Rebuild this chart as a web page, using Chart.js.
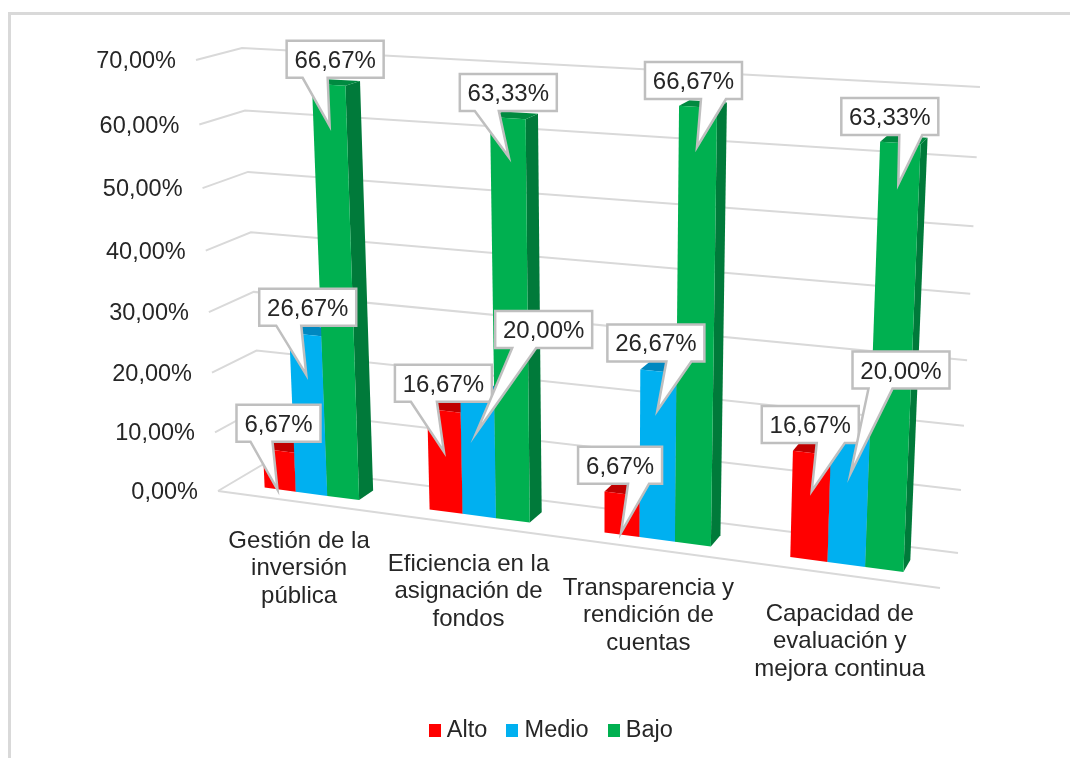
<!DOCTYPE html>
<html>
<head>
<meta charset="utf-8">
<script src="https://cdn.jsdelivr.net/npm/chart.js@4"></script>
<style>
  html, body { margin: 0; background: #fff; }
  canvas { display: block; }
</style>
</head>
<body>
<canvas id="evalChart" width="1070" height="758"></canvas>
<script>
// Datos del grafico
const categories = [
    ['Gestión de la', 'inversión', 'pública'],
    ['Eficiencia en la', 'asignación de', 'fondos'],
    ['Transparencia y', 'rendición de', 'cuentas'],
    ['Capacidad de', 'evaluación y', 'mejora continua']
];
const alto = [6.67, 16.67, 6.67, 16.67];
const medio = [26.67, 20.00, 26.67, 20.00];
const bajo = [66.67, 63.33, 66.67, 63.33];
const tickValues = [0, 10, 20, 30, 40, 50, 60, 70];
const tickLabels = ['0,00%', '10,00%', '20,00%', '30,00%', '40,00%', '50,00%', '60,00%', '70,00%'];

// Perspectiva: esquinas del plano delantero y del trasero (u izq/der, v abajo/arriba)
const frontPlane = [[218, 491], [940, 588], [962, 104], [196, 60]];
const backPlane = [[262, 465], [958, 553], [980, 87], [242, 48]];
const barDepthFront = 0.3;
const barDepthBack = 0.65;

// Globos de etiqueta, relativos a la parte alta de cada barra:
// caja dx, caja dy, punta dx, punta dy, base izq y base der de la punta (desde el borde de la caja)
const calloutOffsets = [
    [[-42, -46, -1, 39, 14, 36], [-49, -46, 0, 41, 16, 42], [-44, -47, -1, 39, 50, 71], [-50, -47, 0, 38, 55, 83]],
    [[-46, -46, 1, 40, 17, 42], [18, -83, -1, 39, 17, 41], [-51, -47, -1, 39, 59, 84], [2, -84, 0, 38, 16, 40]],
    [[-42, -44, 1, 41, 16, 41], [-48, -44, 1, 39, 15, 39], [-53, -45, -1, 40, 56, 81], [-59, -45, -2, 41, 58, 81]]
];

const fontName = '"Liberation Sans", Arial, sans-serif';
const tickFont = '23.5px ' + fontName;
const labelFont = '24px ' + fontName;
const textColor = '#262626';
const gridColor = '#d9d9d9';
const seriesColors = ['#ff0000', '#00b0f0', '#00b050'];
const sideColors = ['#a80000', '#0080b0', '#007a3a'];
const topColors = ['#c00000', '#0088c0', '#008a40'];

function squareToQuad(q) {
    const [[x0, y0], [x1, y1], [x2, y2], [x3, y3]] = q;
    const dx1 = x1 - x2, dx2 = x3 - x2, sx = x0 - x1 + x2 - x3;
    const dy1 = y1 - y2, dy2 = y3 - y2, sy = y0 - y1 + y2 - y3;
    const det = dx1 * dy2 - dx2 * dy1;
    const g = (sx * dy2 - dx2 * sy) / det;
    const h = (dx1 * sy - sx * dy1) / det;
    return (u, v) => {
        const d = g * u + h * v + 1;
        return [
            ((x1 - x0 + g * x1) * u + (x3 - x0 + h * x3) * v + x0) / d,
            ((y1 - y0 + g * y1) * u + (y3 - y0 + h * y3) * v + y0) / d
        ];
    };
}

// Proyecta un pixel plano de Chart.js (y una profundidad 0..1) sobre la vista 3D
function project(chart, px, py, depth) {
    const area = chart.chartArea;
    const quad = frontPlane.map((p, i) => [
        p[0] + (backPlane[i][0] - p[0]) * depth,
        p[1] + (backPlane[i][1] - p[1]) * depth
    ]);
    const u = (px - area.left) / (area.right - area.left);
    const v = (area.bottom - py) / (area.bottom - area.top);
    return squareToQuad(quad)(u, v);
}

function poly(ctx, pts, color) {
    ctx.beginPath();
    pts.forEach((p, i) => i ? ctx.lineTo(p[0], p[1]) : ctx.moveTo(p[0], p[1]));
    ctx.closePath();
    ctx.fillStyle = color;
    ctx.fill();
}

function swatch(color) {
    const c = document.createElement('canvas');
    c.width = 12;
    c.height = 13;
    const g = c.getContext('2d');
    g.fillStyle = color;
    g.fillRect(0, 0, 12, 13);
    return c;
}

const view3d = {
    id: 'view3d',
    beforeDatasetsDraw(chart) {
        const ctx = chart.ctx;
        const { left, right } = chart.chartArea;
        const x = chart.scales.x;
        const y = chart.scales.y;
        ctx.save();

        // marco
        ctx.strokeStyle = gridColor;
        ctx.lineWidth = 3;
        ctx.beginPath();
        ctx.moveTo(9.5, 758);
        ctx.lineTo(9.5, 13.5);
        ctx.lineTo(1070, 13.5);
        ctx.stroke();

        // lineas de la pared y del suelo, con sus etiquetas
        ctx.lineWidth = 2;
        ctx.font = tickFont;
        ctx.textBaseline = 'alphabetic';
        tickValues.forEach((val, i) => {
            const py = y.getPixelForValue(val);
            const a = project(chart, left, py, 0);
            const b = project(chart, left, py, 1);
            const c = project(chart, right, py, 1);
            ctx.beginPath();
            ctx.moveTo(a[0], a[1]);
            ctx.lineTo(b[0], b[1]);
            ctx.lineTo(c[0], c[1]);
            ctx.stroke();
            ctx.fillStyle = textColor;
            ctx.textAlign = 'right';
            ctx.fillText(tickLabels[i], a[0] - 20, a[1] + 8);
        });
        const f0 = project(chart, left, y.getPixelForValue(0), 0);
        const f1 = project(chart, right, y.getPixelForValue(0), 0);
        ctx.beginPath();
        ctx.moveTo(f0[0], f0[1]);
        ctx.lineTo(f1[0], f1[1]);
        ctx.stroke();

        // etiquetas de categoria bajo el borde del suelo
        ctx.font = labelFont;
        ctx.textAlign = 'center';
        ctx.fillStyle = textColor;
        chart.data.labels.forEach((lines, c) => {
            const p = project(chart, x.getPixelForValue(c), y.getPixelForValue(0), 0);
            lines.forEach((line, l) => ctx.fillText(line, p[0], p[1] + 46 + l * 27.5));
        });

        // barras
        categories.forEach((cat, c) => {
            chart.data.datasets.forEach((ds, s) => {
                const el = chart.getDatasetMeta(s).data[c];
                const x0 = el.x - el.width / 2, x1 = el.x + el.width / 2;
                const fb = project(chart, x1, el.base, barDepthFront);
                const ft = project(chart, x1, el.y, barDepthFront);
                const bb = project(chart, x1, el.base, barDepthBack);
                const bt = project(chart, x1, el.y, barDepthBack);
                const fl = project(chart, x0, el.y, barDepthFront);
                const fbl = project(chart, x0, el.base, barDepthFront);
                const bl = project(chart, x0, el.y, barDepthBack);
                poly(ctx, [fb, bb, bt, ft], sideColors[s]);
                poly(ctx, [fl, ft, bt, bl], topColors[s]);
                poly(ctx, [fbl, fb, ft, fl], ds.backgroundColor);
            });
        });
        ctx.restore();
        return false;
    },
    afterDraw(chart) {
        const ctx = chart.ctx;
        ctx.save();
        ctx.font = labelFont;
        ctx.textAlign = 'center';
        ctx.textBaseline = 'alphabetic';
        ctx.lineJoin = 'miter';
        chart.data.datasets.forEach((ds, s) => {
            ds.data.forEach((val, c) => {
                const el = chart.getDatasetMeta(s).data[c];
                const anchor = project(chart, el.x, el.y, barDepthFront);
                const [bx, by, tx, ty, b0, b1] = calloutOffsets[s][c];
                const text = val.toFixed(2).replace('.', ',') + '%';
                const w = Math.round(ctx.measureText(text).width) + 16;
                const h = 37;
                const l = anchor[0] + bx, t = anchor[1] + by;
                ctx.beginPath();
                ctx.moveTo(l, t);
                ctx.lineTo(l + w, t);
                ctx.lineTo(l + w, t + h);
                ctx.lineTo(l + b1, t + h);
                ctx.lineTo(anchor[0] + tx, anchor[1] + ty);
                ctx.lineTo(l + b0, t + h);
                ctx.lineTo(l, t + h);
                ctx.closePath();
                ctx.fillStyle = '#fff';
                ctx.fill();
                ctx.strokeStyle = '#bfbfbf';
                ctx.lineWidth = 2.5;
                ctx.stroke();
                ctx.fillStyle = textColor;
                ctx.fillText(text, l + w / 2, t + 27);
            });
        });
        ctx.restore();
    }
};

new Chart(document.getElementById('evalChart'), {
    type: 'bar',
    data: {
        labels: categories,
        datasets: [
            { label: 'Alto', data: alto, backgroundColor: seriesColors[0] },
            { label: 'Medio', data: medio, backgroundColor: seriesColors[1] },
            { label: 'Bajo', data: bajo, backgroundColor: seriesColors[2] }
        ]
    },
    options: {
        responsive: false,
        animation: false,
        layout: { padding: { left: 37, bottom: 6 } },
        datasets: { bar: { categoryPercentage: 0.58, barPercentage: 1 } },
        plugins: {
            tooltip: { enabled: false },
            legend: {
                position: 'bottom',
                labels: {
                    usePointStyle: true,
                    boxWidth: 1,
                    padding: 24.5,
                    color: textColor,
                    font: { size: 23.5, family: fontName },
                    generateLabels(chart) {
                        return Chart.defaults.plugins.legend.labels.generateLabels(chart)
                            .map((item, i) => Object.assign(item, { pointStyle: swatch(seriesColors[i]) }));
                    }
                }
            }
        },
        scales: {
            x: { display: false },
            y: { display: false, min: 0, max: 70 }
        }
    },
    plugins: [view3d]
});
</script>
</body>
</html>
